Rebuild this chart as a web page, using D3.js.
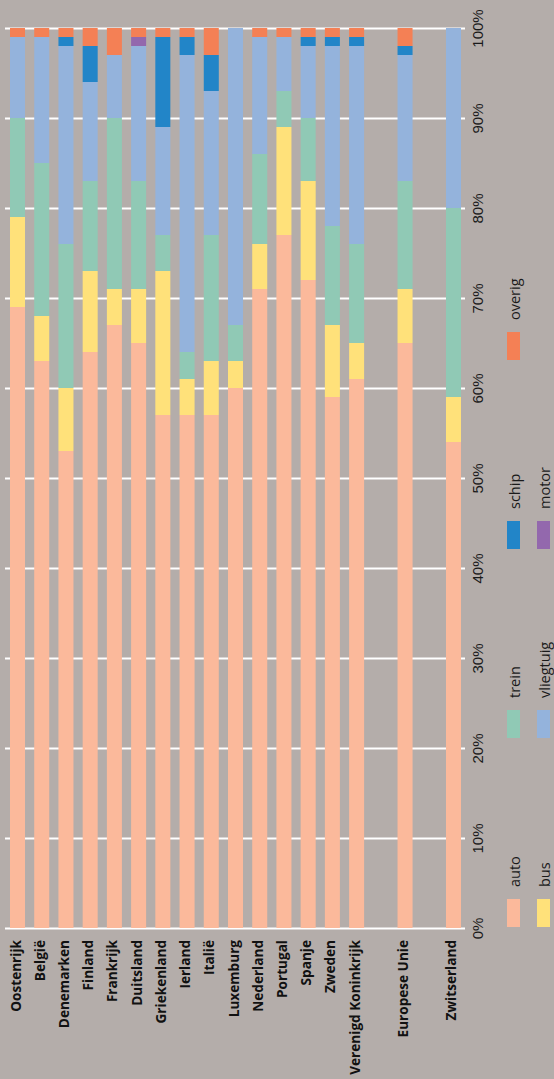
<!DOCTYPE html>
<html>
<head>
<meta charset="utf-8">
<script src="https://cdn.jsdelivr.net/npm/d3@7"></script>
<style>
  body { margin: 0; background: #b4adaa; }
  svg { display: block; font-family: "Open Sans", sans-serif; }
</style>
</head>
<body>
<div id="chart"></div>
<script>
/* Data */
const countries = ["Oostenrijk", "België", "Denemarken", "Finland", "Frankrijk", "Duitsland",
  "Griekenland", "Ierland", "Italië", "Luxemburg", "Nederland", "Portugal", "Spanje",
  "Zweden", "Verenigd Koninkrijk", "Europese Unie", "Zwitserland"];

const auto      = [69, 63, 53, 64, 67, 65, 57, 57, 57, 60, 71, 77, 72, 59, 61, 65, 54];
const bus       = [10,  5,  7,  9,  4,  6, 16,  4,  6,  3,  5, 12, 11,  8,  4,  6,  5];
const trein     = [11, 17, 16, 10, 19, 12,  4,  3, 14,  4, 10,  4,  7, 11, 11, 12, 21];
const vliegtuig = [ 9, 14, 22, 11,  7, 15, 12, 33, 16, 33, 13,  6,  8, 20, 22, 14, 20];
const schip     = [ 0,  0,  1,  4,  0,  0, 10,  2,  4,  0,  0,  0,  1,  1,  1,  1,  0];
const motor     = [ 0,  0,  0,  0,  0,  1,  0,  0,  0,  0,  0,  0,  0,  0,  0,  0,  0];
const overig    = [ 1,  1,  1,  2,  3,  1,  1,  1,  3,  0,  1,  1,  1,  1,  1,  2,  0];

const modes = ["auto", "bus", "trein", "vliegtuig", "schip", "motor", "overig"];
const colors = ["#fbb99b", "#ffe17a", "#90c9b5", "#94b3dc", "#2285c8", "#9368ad", "#f48055"];
const yTicks = [0, 10, 20, 30, 40, 50, 60, 70, 80, 90, 100];

/* countries that get an empty slot before them */
const gapBefore = ["Europese Unie", "Zwitserland"];

const series = { auto, bus, trein, vliegtuig, schip, motor, overig };
const rows = countries.map((c, i) => {
  const r = { country: c };
  modes.forEach(m => r[m] = series[m][i]);
  return r;
});

/* Layout */
const W = 554, H = 1079;
const svg = d3.select("#chart").append("svg")
    .attr("width", W)
    .attr("height", H);

const slots = [];
countries.forEach(c => {
  if (gapBefore.includes(c)) slots.push("gap-" + c);
  slots.push(c);
});

const x = d3.scaleBand().domain(slots).range([10, 461]).paddingInner(0.38).paddingOuter(0);
const y = d3.scaleLinear().domain([0, 100]).range([928, 28]);
const color = d3.scaleOrdinal().domain(modes).range(colors);

/* Gridlines + tick labels (rotated like the rest of the page) */
const axis = svg.append("g")
    .attr("transform", "translate(465,0)")
    .call(d3.axisRight(y).tickValues(yTicks).tickSizeInner(-460).tickSizeOuter(0)
      .tickPadding(18).tickFormat(d => d + "%"));
axis.select(".domain").remove();
axis.selectAll("line").attr("stroke", "#ffffff").attr("stroke-width", 2);
axis.selectAll("text")
    .attr("x", null).attr("dy", null)
    .attr("transform", "translate(18,0) rotate(-90)")
    .attr("text-anchor", "middle")
    .attr("fill", "#1a1a1a")
    .style("font-size", "15px");

/* Stacked bars */
const stacked = d3.stack().keys(modes)(rows);
svg.append("g")
  .selectAll("g")
  .data(stacked)
  .join("g")
    .attr("fill", d => color(d.key))
  .selectAll("rect")
  .data(d => d)
  .join("rect")
    .attr("x", d => x(d.data.country))
    .attr("width", x.bandwidth())
    .attr("y", d => y(d[1]))
    .attr("height", d => y(d[0]) - y(d[1]));

/* Category labels */
svg.append("g")
  .selectAll("text")
  .data(countries)
  .join("text")
    .attr("transform", d => `translate(${x(d) + x.bandwidth() / 2},940) rotate(-90)`)
    .attr("text-anchor", "end")
    .attr("dy", "0.22em")
    .style("font-size", "13.6px")
    .style("font-weight", "bold")
    .attr("fill", "#111")
    .text(d => d);

/* Legend */
const legend = svg.append("g")
  .selectAll("g")
  .data(modes)
  .join("g")
    .attr("transform", (d, i) => `translate(${507 + (i % 2) * 30},${899 - Math.floor(i / 2) * 189})`);
legend.append("rect")
    .attr("width", 13)
    .attr("height", 28)
    .attr("fill", d => color(d));
legend.append("text")
    .attr("transform", "translate(13,-12) rotate(-90)")
    .style("font-size", "14.5px")
    .attr("fill", "#1a1a1a")
    .text(d => d);
</script>
</body>
</html>
